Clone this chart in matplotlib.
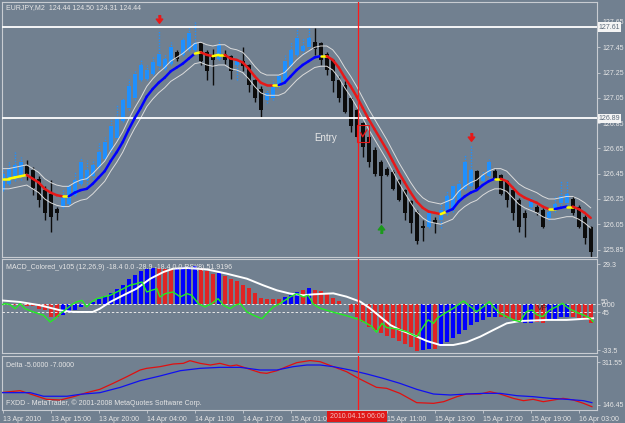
import numpy as np
import matplotlib.pyplot as plt
import matplotlib.transforms as mtransforms
from matplotlib.collections import LineCollection
from matplotlib.patches import Rectangle

plt.rcParams['font.family'] = ['Liberation Sans', 'DejaVu Sans']

W, H = 625, 423
BG = '#718090'
FRAME = '#c8ccd2'
TXT = '#e6e6e6'

# ---------------- price pane ----------------
opens = [126.32, 126.37, 126.41, 126.43, 126.51, 126.48, 126.41, 126.32, 126.29, 126.17,
         126.19, 126.21, 126.28, 126.37, 126.40, 126.43, 126.50, 126.57, 126.64, 126.73,
         126.87, 126.97, 127.05, 127.19, 127.20, 127.24, 127.30, 127.28, 127.32, 127.41,
         127.39, 127.43, 127.43, 127.48, 127.41, 127.39, 127.36, 127.40, 127.38, 127.31,
         127.34, 127.31, 127.19, 127.12, 127.03, 127.05, 127.14, 127.18, 127.30, 127.39,
         127.42, 127.45, 127.49, 127.48, 127.40, 127.35, 127.19, 127.15, 127.05, 126.95,
         126.85, 126.74, 126.64, 126.54, 126.49, 126.46, 126.40, 126.32, 126.23, 126.15,
         126.04, 126.03, 126.08, 126.08, 126.14, 126.16, 126.24, 126.33, 126.35, 126.47,
         126.39, 126.43, 126.47, 126.44, 126.39, 126.32, 126.24, 126.14, 126.19, 126.19,
         126.16, 126.10, 126.16, 126.22, 126.22, 126.25, 126.19, 126.11, 126.03]
highs = [126.50, 126.54, 126.62, 126.58, 126.56, 126.50, 126.43, 126.35, 126.40, 126.19,
         126.32, 126.37, 126.46, 126.58, 126.56, 126.57, 126.69, 126.74, 126.90, 126.99,
         127.06, 127.20, 127.27, 127.35, 127.31, 127.38, 127.59, 127.40, 127.49, 127.43,
         127.53, 127.60, 127.65, 127.49, 127.43, 127.44, 127.51, 127.43, 127.39, 127.36,
         127.45, 127.32, 127.20, 127.14, 127.11, 127.19, 127.24, 127.39, 127.49, 127.60,
         127.52, 127.60, 127.60, 127.49, 127.41, 127.36, 127.22, 127.18, 127.06, 126.97,
         126.86, 126.75, 126.66, 126.56, 126.50, 126.48, 126.41, 126.33, 126.24, 126.16,
         126.08, 126.15, 126.11, 126.21, 126.31, 126.37, 126.41, 126.60, 126.68, 126.48,
         126.47, 126.57, 126.49, 126.45, 126.40, 126.33, 126.26, 126.16, 126.27, 126.20,
         126.18, 126.19, 126.27, 126.40, 126.39, 126.27, 126.20, 126.12, 126.04]
lows = [126.31, 126.36, 126.39, 126.40, 126.40, 126.28, 126.19, 126.08, 125.99, 126.08,
        126.18, 126.20, 126.27, 126.36, 126.35, 126.41, 126.49, 126.56, 126.62, 126.72,
        126.86, 126.95, 127.03, 127.18, 127.19, 127.23, 127.28, 127.27, 127.31, 127.34,
        127.38, 127.42, 127.42, 127.31, 127.19, 127.15, 127.35, 127.32, 127.20, 127.19,
        127.26, 127.10, 127.02, 126.90, 127.01, 127.03, 127.13, 127.16, 127.28, 127.38,
        127.40, 127.44, 127.39, 127.31, 127.23, 127.10, 127.02, 126.93, 126.78, 126.74,
        126.58, 126.50, 126.43, 126.06, 126.43, 126.32, 126.23, 126.08, 125.98, 125.89,
        125.92, 126.02, 125.98, 126.02, 126.12, 126.15, 126.23, 126.32, 126.33, 126.32,
        126.37, 126.41, 126.40, 126.28, 126.19, 126.08, 125.99, 125.95, 126.16, 126.12,
        126.02, 126.08, 126.15, 126.20, 126.20, 126.12, 126.02, 125.89, 125.79]
closes = [126.45, 126.49, 126.52, 126.54, 126.45, 126.34, 126.24, 126.14, 126.11, 126.14,
          126.27, 126.35, 126.40, 126.54, 126.48, 126.52, 126.62, 126.70, 126.83, 126.90,
          127.03, 127.14, 127.24, 127.31, 127.27, 127.33, 127.40, 127.36, 127.45, 127.36,
          127.51, 127.56, 127.48, 127.34, 127.26, 127.35, 127.47, 127.35, 127.26, 127.34,
          127.30, 127.15, 127.05, 126.95, 127.09, 127.16, 127.22, 127.34, 127.43, 127.52,
          127.46, 127.52, 127.44, 127.35, 127.27, 127.18, 127.05, 126.94, 126.83, 126.74,
          126.66, 126.54, 126.45, 126.43, 126.44, 126.33, 126.24, 126.14, 126.06, 125.92,
          126.02, 126.14, 126.06, 126.16, 126.27, 126.35, 126.37, 126.54, 126.48, 126.33,
          126.44, 126.54, 126.41, 126.29, 126.24, 126.14, 126.03, 126.10, 126.24, 126.15,
          126.03, 126.15, 126.21, 126.27, 126.29, 126.14, 126.03, 125.94, 125.83]
# b = blue candle, k = black candle
candle_col = ("bbbb" "kkkkkk" "bbbbbbbbbbbbbbbbbbb" "k" "bbb" "kkk" "b" "kk" "b" "kkkk"
              "bbbbbbbb" "kkkkkkkkkkkkkkkkkkk" "b" "k" "bbbbbb" "k" "bb" "kkkkkk" "b" "kk"
              "bbbb" "kkkk")

ma = [126.41, 126.41, 126.42, 126.43, 126.44, 126.41, 126.38, 126.33, 126.30, 126.28,
      126.27, 126.27, 126.30, 126.32, 126.33, 126.37, 126.42, 126.47, 126.55, 126.62,
      126.70, 126.80, 126.89, 126.97, 127.06, 127.12, 127.17, 127.21, 127.26, 127.29,
      127.32, 127.36, 127.40, 127.41, 127.39, 127.38, 127.39, 127.39, 127.36, 127.35,
      127.33, 127.28, 127.22, 127.17, 127.15, 127.15, 127.15, 127.17, 127.22, 127.27,
      127.31, 127.34, 127.37, 127.38, 127.38, 127.35, 127.29, 127.21, 127.14, 127.06,
      126.97, 126.88, 126.80, 126.72, 126.64, 126.55, 126.46, 126.38, 126.30, 126.23,
      126.18, 126.15, 126.14, 126.13, 126.15, 126.17, 126.23, 126.27, 126.30, 126.32,
      126.36, 126.39, 126.41, 126.41, 126.39, 126.34, 126.29, 126.26, 126.24, 126.22,
      126.19, 126.17, 126.17, 126.18, 126.19, 126.19, 126.17, 126.14, 126.10]
# colour of each MA segment (bar i to i+1): y = yellow, r = red, b = blue
ma_col = ("yyyy" "rrrrrr" "y" "bbbbbbbbbbbbbbbbbbbbb" "y" "rr" "yy" "rrrrrrrr" "y"
          "bbbbbbb" "y" "rrrrrrrrrrrrrrrrrrr" "y" "bbbbbbbb" "y" "rrrrrrrr" "y" "bb" "y" "rrr")
band = 0.08

sell_bars = [26, 78]
sell_px = [127.67, 126.74]
buy_bars = [63]
buy_px = [126.01]
level_lines = [127.61, 126.89]
price_ticks = [127.65, 127.45, 127.25, 127.05, 126.85, 126.65, 126.45, 126.25, 126.05, 125.85]
entry_bar = 59.2
entry_box = [59.1, 126.703, 2.0, 0.132]
check_x = [59.66, 59.99, 60.66]
check_y = [126.774, 126.742, 126.795]

# ---------------- MACD pane ----------------
macd_hist = [0.3, 0.2, -0.5, -0.8, -1.2, -1.5, -3.2, -4.4, -9.2, -9.2,
             -7.5, -5.6, -4.4, -1.9, -0.7, 1.7, 4.1, 6.1, 8.5, 11.4,
             14.4, 18.2, 21.2, 24.1, 25.5, 26.5, 26.2, 25.7, 25.5, 26.5,
             27.2, 27.5, 27.7, 26.5, 24.0, 22.4, 22.9, 20.7, 18.5, 16.8,
             14.4, 11.9, 8.5, 4.6, 4.1, 4.1, 4.1, 5.4, 6.6, 9.0,
             10.5, 12.2, 10.5, 9.7, 7.3, 4.4, 2.4, 0.5, -5.4, -9.0,
             -12.7, -16.3, -18.7, -21.2, -22.9, -24.8, -26.8, -29.2, -30.9, -34.0,
             -33.3, -32.6, -32.8, -29.7, -27.3, -24.8, -21.9, -18.7, -15.1, -12.7,
             -11.4, -9.0, -9.0, -9.0, -10.2, -11.4, -12.7, -13.9, -13.9, -12.7,
             -13.9, -11.4, -11.4, -9.0, -9.0, -9.0, -10.2, -11.4, -13.9]
macd_col = ("bb" "rrrrrrrr" "bbbbbbbbbbbbbbbb" "rrr" "bbbb" "rrr" "b" "rrrrrrrrrr" "bbb"
            "r" "b" "rrrrrrrrrrrrrrrrrr" "bb" "r" "bbbbbbbbbb" "rrrr" "bb" "rr" "bbbb" "rrrr")
sig_x = [-0.4, 2.9, 6.2, 9.6, 11.8, 15.0, 16.2, 17.9, 20.1, 22.3, 24.6, 26.8, 28.4, 30.7,
         34.0, 37.3, 40.7, 43.4, 45.7, 47.9, 50.1, 51.8, 55.1, 57.3, 59.6, 61.2, 62.9,
         64.6, 66.2, 68.4, 70.7, 72.9, 75.1, 77.3, 79.6, 81.8, 84.0, 86.2, 90.7, 94.0, 98.4]
sig_y = [2.9, 1.7, -0.7, -4.4, -5.6, -5.6, -3.2, 1.7, 6.6, 11.4, 18.7, 23.6, 26.0, 26.5,
         25.5, 22.4, 18.7, 13.9, 10.2, 7.8, 6.6, 7.3, 8.0, 5.6, 1.9, -2.9, -9.0,
         -15.1, -18.7, -22.4, -26.8, -29.7, -29.7, -27.7, -23.6, -18.7, -13.9, -12.2, -11.4, -11.4, -10.2]
rsi_x = [-0.4, 0.4, 1.2, 2.1, 2.9, 3.7, 5.1, 6.8, 7.9, 8.7, 9.6, 10.7, 11.5, 12.3, 13.2, 14.0,
         14.8, 15.7, 16.8, 17.9, 19.0, 20.1, 21.2, 22.3, 23.2, 24.0, 24.8, 25.7, 26.2, 27.1,
         28.4, 29.6, 30.7, 31.5, 32.6, 33.7, 34.8, 35.9, 36.8, 37.9, 38.7, 39.6, 40.7, 41.8,
         43.2, 44.0, 45.1, 46.2, 47.9, 49.0, 50.1, 50.9, 51.8, 52.9, 55.1, 57.3, 59.6, 61.5,
         62.3, 63.2, 64.0, 65.7, 67.3, 69.0, 70.1, 70.9, 71.8, 72.4, 73.4, 75.1, 76.8, 77.6,
         79.0, 80.1, 81.1, 82.1, 82.9, 84.0, 85.1, 86.2, 87.3, 88.2, 89.1, 90.0, 91.2, 92.3,
         93.3, 94.3, 95.4, 96.8, 97.9, 98.4]
rsi_y = [-0.7, 0.5, -0.2, -3.2, 0.5, -3.2, -5.6, -8.0, -12.9, -10.5, -6.8, -3.2, -0.2, 1.7, 2.9, -1.9,
         1.7, 4.1, 5.4, 6.6, 9.0, 11.4, 13.9, 15.1, 16.3, 9.0, 10.2, 11.4, 5.4, 7.8,
         9.0, 5.4, 7.8, 6.6, 0.5, -1.9, 0.5, 4.1, -0.7, -3.2, -0.7, 0.5, -5.6, -8.0,
         -10.5, -6.8, -1.9, 0.5, 5.4, 7.8, 5.4, 6.6, 0.0, -2.9, -5.8, -8.3, -11.4, -16.1,
         -20.4, -13.9, -17.0, -18.0, -19.9, -23.6, -16.3, -11.4, -13.9, -10.2, -7.3, -2.9, 2.4, -0.5,
         -5.4, -1.7, 1.9, -3.4, -6.6, -9.0, -11.4, -12.7, -5.4, -4.1, -7.8, -9.0, -4.1, -1.7,
         0.7, -2.9, -5.4, -7.8, -10.2, -12.7]
macd_levels = [0.0, -5.84]
macd_ticks = [29.3, 0.0, -5.84, -33.5]
macd_labels = ['29.3', '0.00', '45', '-33.5']

# ---------------- Delta pane ----------------
dred_x = [-0.4, 2.9, 5.1, 7.3, 9.6, 11.8, 14.0, 16.2, 18.4, 20.7, 22.9, 24.0, 26.2, 28.4, 30.1,
          31.2, 32.9, 34.6, 36.2, 37.9, 39.0, 40.7, 42.9, 44.0, 45.7, 47.3, 49.0, 51.2, 52.9,
          55.1, 57.3, 59.3, 62.3, 64.0, 66.2, 69.0, 71.8, 73.5, 75.7, 77.3, 79.6, 81.2, 82.9,
          85.1, 86.8, 88.4, 90.1, 91.8, 93.4, 95.1, 96.8, 98.2]
dred_y = [193.8, 201.4, 184.8, 168.2, 165.6, 178.4, 193.8, 206.6, 229.6, 255.2, 280.8, 287.2, 293.6,
          303.8, 306.4, 316.6, 306.4, 300.0, 306.4, 296.2, 300.0, 287.2, 270.6, 268.0, 278.2, 293.6,
          309.0, 317.0, 312.8, 293.6, 274.4, 248.8, 214.2, 210.4, 191.2, 155.4, 152.8, 159.2, 178.4,
          188.6, 188.6, 197.6, 188.6, 172.0, 163.0, 168.2, 159.2, 165.6, 172.0, 165.6, 152.8, 140.0]
dblue_x = [-0.4, 4.6, 6.8, 10.7, 12.9, 16.2, 19.6, 22.9, 26.2, 29.6, 32.9, 36.2, 39.6, 42.9,
           45.7, 48.4, 50.7, 52.9, 55.1, 57.9, 60.7, 63.4, 66.2, 69.0, 71.8, 74.6, 77.3, 80.1,
           82.9, 85.7, 88.4, 91.2, 94.0, 96.8, 98.2]
dblue_y = [193.8, 193.8, 180.0, 180.0, 187.4, 193.8, 214.2, 239.8, 257.8, 278.2, 287.2, 291.0,
           291.0, 280.8, 280.8, 293.6, 300.0, 300.0, 293.6, 280.8, 265.4, 248.8, 229.6, 206.6,
           188.6, 184.8, 188.6, 191.2, 191.2, 182.2, 178.4, 172.0, 168.2, 163.0, 155.4]
delta_ticks = [311.55, 146.45]

# the label at bar 56 is covered by the red cursor-time box in the reference
time_ticks = [0, 8, 16, 24, 32, 40, 48, 56, 64, 72, 80, 88, 96]
time_labels = ['13 Apr 2010', '13 Apr 15:00', '13 Apr 20:00', '14 Apr 04:00', '14 Apr 11:00',
               '14 Apr 17:00', '15 Apr 01:00', '', '15 Apr 11:00', '15 Apr 13:00',
               '15 Apr 17:00', '15 Apr 19:00', '16 Apr 03:00']


def box(x0, y0, x1, y1):
    return [x0 / W, 1 - y1 / H, (x1 - x0) / W, (y1 - y0) / H]


def ftext(xp, yp, s, **kw):
    fig.text(xp / W, 1 - yp / H, s, **kw)


def style(a, ylim):
    a.set_facecolor(BG)
    a.set_xlim(-0.12, 99.05)
    a.set_ylim(*ylim)
    for sp in a.spines.values():
        sp.set_color(FRAME)
        sp.set_linewidth(0.8)
    a.yaxis.tick_right()
    a.tick_params(axis='y', direction='out', length=2.5, width=0.6, color=FRAME, pad=1.2,
                  labelsize=5, labelcolor=TXT)
    a.tick_params(axis='x', bottom=False, labelbottom=False)


fig = plt.figure(figsize=(W / 100, H / 100), dpi=100, facecolor=BG)
ax = fig.add_axes(box(2, 2, 597, 257))
am = fig.add_axes(box(2, 259, 597, 353))
ad = fig.add_axes(box(2, 356, 597, 410))
style(ax, (125.791, 127.808))
style(am, (-35.55, 33.07))
style(ad, (127.2, 334.6))

# candles
x = np.arange(len(opens))
o, h, l, c = map(np.array, (opens, highs, lows, closes))
blue = np.array([ch == 'b' for ch in candle_col])
ax.vlines(x[~blue], l[~blue], h[~blue], color='#0c0c0c', lw=1.0, zorder=2)
ax.vlines(x[blue], l[blue], h[blue], color='#1e90ff', lw=1.0, linestyles=(0, (1, 1)), zorder=2)
body_lo = np.minimum(o, c)
body_h = np.maximum(np.abs(c - o), 0.012)
ax.bar(x, body_h, bottom=body_lo, width=0.62, color=np.where(blue, '#1e90ff', '#0c0c0c'),
       linewidth=0, zorder=2.5)

# MA + envelope
ma_a = np.array(ma)
ax.plot(x, ma_a + band, color='#dcdcdc', lw=0.7, zorder=3)
ax.plot(x, ma_a - band, color='#dcdcdc', lw=0.7, zorder=3)
segs = np.stack([np.column_stack([x[:-1], ma_a[:-1]]), np.column_stack([x[1:], ma_a[1:]])], axis=1)
cmap = {'b': '#0000ff', 'r': '#e81818', 'y': '#ffff00'}
ax.add_collection(LineCollection(segs, colors=[cmap[k] for k in ma_col], linewidths=1.8,
                                 capstyle='round', zorder=4))

for p in level_lines:
    ax.axhline(p, color='white', lw=1.3, zorder=3.5)

down = [(-0.3, 1), (0.3, 1), (0.3, 0.1), (0.85, 0.1), (0, -1), (-0.85, 0.1), (-0.3, 0.1)]
up = [(vx, -vy) for vx, vy in down]
ax.plot(sell_bars, sell_px, ls='none', marker=down, ms=5.5, color='#e81818', zorder=6)
ax.plot(buy_bars, buy_px, ls='none', marker=up, ms=5.5, color='#1c9a1c', zorder=6)

ax.add_patch(Rectangle((entry_box[0], entry_box[1]), entry_box[2], entry_box[3], fill=False,
                       edgecolor='#e81818', lw=0.8, zorder=6))
ax.plot(check_x, check_y, color='#e81818', lw=1.0, zorder=6)
ax.text(53.9, 126.732, 'Entry', fontsize=7, color='#e8e8e8', ha='center', va='center', zorder=6)

ax.set_yticks(price_ticks)
ax.set_yticklabels([f'{p:.2f}' for p in price_ticks])
tr = mtransforms.blended_transform_factory(ax.transAxes, ax.transData)
for p in level_lines:
    ax.text(1.003, p, f'{p:.2f}', transform=tr, fontsize=5, color='#5d6b7a', ha='left', va='center',
            clip_on=False, zorder=8,
            bbox=dict(boxstyle='square,pad=0.15', facecolor='#f4f4f4', edgecolor='none'))

# MACD pane
am.bar(x, macd_hist, width=0.62, color=['#0000ff' if k == 'b' else '#e02424' for k in macd_col],
       linewidth=0, zorder=2)
for v in macd_levels:
    am.axhline(v, color='#e8e8e8', lw=0.7, ls=(0, (2.5, 2)), zorder=3)
am.plot(sig_x, sig_y, color='white', lw=1.4, zorder=4)
am.plot(rsi_x, rsi_y, color='#22ee22', lw=1.0, zorder=5)
am.text(89.9, -3.4, 'VP', fontsize=6, color='#3a2424', ha='center', va='center', zorder=6)
am.set_yticks(macd_ticks)
am.set_yticklabels(macd_labels)
trm = mtransforms.blended_transform_factory(am.transAxes, am.transData)
am.text(1.006, 1.6, '50', transform=trm, fontsize=5, color=TXT, ha='left', va='center', clip_on=False)

# Delta pane
ad.plot(dred_x, dred_y, color='#e01010', lw=0.9, zorder=3)
ad.plot(dblue_x, dblue_y, color='#1010f0', lw=0.9, zorder=3)
ad.set_yticks(delta_ticks)
ad.set_yticklabels([f'{v:.2f}' for v in delta_ticks])
ad.set_xticks(time_ticks)
ad.set_xticklabels(time_labels, ha='left')
ad.tick_params(axis='x', bottom=True, labelbottom=True, direction='out', length=2.5, width=0.6,
               color=FRAME, pad=1.5, labelsize=5, labelcolor=TXT)

for a in (ax, am, ad):
    a.axvline(entry_bar, color='#ff1a1a', lw=0.9, zorder=7)

# texts
ftext(6, 7.5, 'EURJPY,M2  124.44 124.50 124.31 124.44', fontsize=5, color=TXT, va='center')
ftext(6, 267.5, 'MACD_Colored_v105 (12,26,9) -18.4 0.0 -28.9 -18.4 0.0 RSI(8) 51.9196',
      fontsize=5, color=TXT, va='center')
ftext(6, 365, 'Delta -5.0000 -7.0000', fontsize=5, color=TXT, va='center')
ftext(6, 403.3, 'FXDD - MetaTrader, \u00a9 2001-2008 MetaQuotes Software Corp.', fontsize=5,
      color=TXT, va='center')
ftext(357, 416.5, '2010.04.15 06:00', fontsize=5, color='#f0c0c0', ha='center', va='center',
      zorder=10, bbox=dict(boxstyle='square,pad=0.35', facecolor='#e01818', edgecolor='none'))

fig.savefig('out.png', dpi=100, facecolor=BG)
